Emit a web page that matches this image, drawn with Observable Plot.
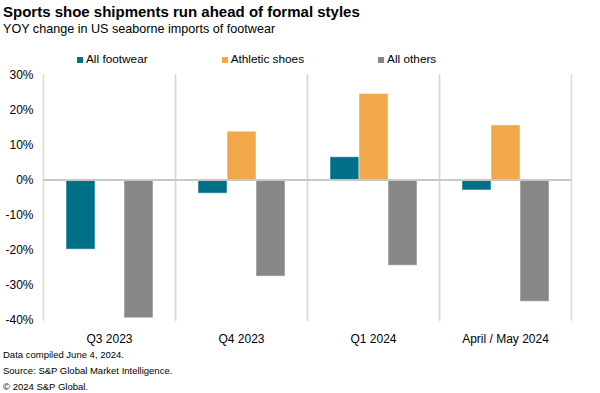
<!DOCTYPE html>
<html>
<head>
<meta charset="utf-8">
<script src="https://cdn.jsdelivr.net/npm/d3@7"></script>
<script src="https://cdn.jsdelivr.net/npm/@observablehq/plot@0.6"></script>
<style>
  html, body { margin: 0; padding: 0; background: #fff; }
  body { width: 600px; height: 393px; position: relative; overflow: hidden;
         font-family: "Liberation Sans", Arial, Helvetica, sans-serif; color: #000; }
  .t { position: absolute; left: 3px; white-space: nowrap; }
  #title { top: 3px; font-size: 15px; font-weight: bold; }
  #subtitle { top: 21.5px; font-size: 12.6px; }
  #legend { position: absolute; top: 52px; left: 77px; display: flex; gap: 74px; font-size: 11.8px; }
  #legend .item { display: flex; align-items: center; }
  #legend .sw { width: 6px; height: 6px; margin-right: 3px; margin-top: 2px; }
  #chart { position: absolute; top: 66px; left: 0; }
  #footer { position: absolute; left: 3px; top: 347px; font-size: 9.5px; line-height: 16px; }
</style>
</head>
<body>
<div id="title" class="t">Sports shoe shipments run ahead of formal styles</div>
<div id="subtitle" class="t">YOY change in US seaborne imports of footwear</div>
<div id="legend"></div>
<div id="chart"></div>
<div id="footer">Data compiled June 4, 2024.<br>Source: S&amp;P Global Market Intelligence.<br>© 2024 S&amp;P Global.</div>
<script>
const quarters = ["Q3 2023", "Q4 2023", "Q1 2024", "April / May 2024"];
const series = ["All footwear", "Athletic shoes", "All others"];
const allFootwear = [-19.9, -3.9, 6.5, -3.0];
const athleticShoes = [null, 13.8, 24.6, 15.6];
const allOthers = [-39.5, -27.6, -24.5, -34.8];
const seriesColors = ["#006f88", "#f0a84a", "#878787"];
const yTicks = [-40, -30, -20, -10, 0, 10, 20, 30];

const valuesBySeries = [allFootwear, athleticShoes, allOthers];
const data = [];
quarters.forEach((q, i) => {
  series.forEach((s, j) => {
    const v = valuesBySeries[j][i];
    if (v != null) data.push({quarter: q, series: s, value: v});
  });
});

// legend
const legend = document.getElementById("legend");
series.forEach((s, j) => {
  const item = document.createElement("div");
  item.className = "item";
  const sw = document.createElement("span");
  sw.className = "sw";
  sw.style.background = seriesColors[j];
  const lb = document.createElement("span");
  lb.textContent = s;
  item.appendChild(sw); item.appendChild(lb);
  legend.appendChild(item);
});

const chart = Plot.plot({
  width: 600,
  height: 285,
  marginTop: 8.5,
  marginBottom: 31.5,
  marginLeft: 42,
  marginRight: 28.5,
  style: {fontFamily: "'Liberation Sans', Arial, sans-serif", fontSize: "12px", color: "#000", background: "#fff"},
  fx: {domain: quarters, padding: 0, label: null},
  x: {domain: series, paddingInner: 0, paddingOuter: 0.75, axis: null},
  y: {domain: [-40, 30], label: null},
  color: {domain: series, range: seriesColors},
  marks: [
    Plot.frame({anchor: "left", stroke: "#d9d9d9", strokeWidth: 1.5}),
    Plot.frame({anchor: "right", stroke: "#d9d9d9", strokeWidth: 1.5}),
    Plot.barY(data, {fx: "quarter", x: "series", y: "value", fill: "series", stroke: "#fff", strokeOpacity: 0.5, strokeWidth: 1}),
    Plot.ruleY([0], {stroke: "#c8c8c8", strokeWidth: 2}),
    Plot.axisY(yTicks, {tickFormat: d => d + "%", tickSize: 0, tickPadding: 10, label: null, fontSize: 12}),
    Plot.axisFx({anchor: "bottom", tickSize: 0, tickPadding: 14, label: null, fontSize: 12})
  ]
});
document.getElementById("chart").appendChild(chart);
</script>
</body>
</html>
